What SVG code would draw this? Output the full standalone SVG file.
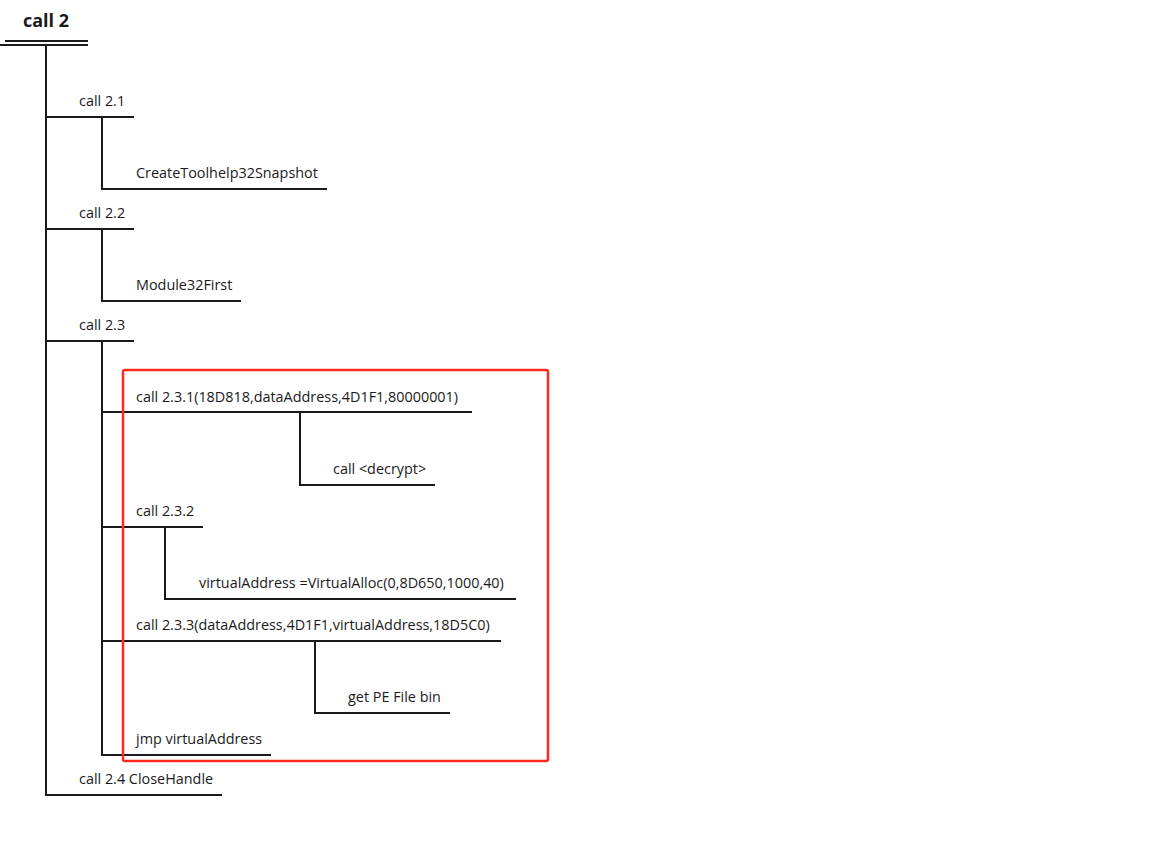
<svg xmlns="http://www.w3.org/2000/svg" width="1167" height="868" viewBox="0 0 1167 868">
<style>
text{font-family:"Open Sans","Noto Sans","Liberation Sans",sans-serif;font-size:14.4px;fill:#1a1a1a}
.t{font-size:18px;font-weight:bold}
.c line{stroke:#1a1a1a;stroke-width:2}
.hl{fill:none;stroke:#ff2a1f;stroke-width:2.5}
</style>
<rect width="1167" height="868" fill="#fff"/>
<g id="connectors" class="c">
<line x1="5" y1="41" x2="88" y2="41"/>
<line x1="0" y1="45" x2="88" y2="45"/>
<line x1="46" y1="45" x2="46" y2="796"/>
<line x1="46" y1="117" x2="134" y2="117"/>
<line x1="102" y1="117" x2="102" y2="190"/>
<line x1="101" y1="189" x2="327" y2="189"/>
<line x1="46" y1="229" x2="134" y2="229"/>
<line x1="102" y1="229" x2="102" y2="302"/>
<line x1="101" y1="301" x2="241" y2="301"/>
<line x1="46" y1="341" x2="134" y2="341"/>
<line x1="102" y1="341" x2="102" y2="756"/>
<line x1="102" y1="412" x2="472" y2="412"/>
<line x1="300" y1="412" x2="300" y2="486"/>
<line x1="299" y1="485" x2="435" y2="485"/>
<line x1="102" y1="527" x2="203" y2="527"/>
<line x1="165" y1="527" x2="165" y2="600"/>
<line x1="164" y1="599" x2="516" y2="599"/>
<line x1="102" y1="641" x2="501" y2="641"/>
<line x1="315" y1="641" x2="315" y2="714"/>
<line x1="314" y1="713" x2="450" y2="713"/>
<line x1="101" y1="755" x2="271" y2="755"/>
<line x1="45" y1="795" x2="222" y2="795"/>
</g>
<g id="n-call2"><text class="t" x="46" y="27" text-anchor="middle">call 2</text></g>
<g id="n-2-1"><text x="79" y="106">call 2.1</text></g>
<g id="n-create"><text x="136" y="178">CreateToolhelp32Snapshot</text></g>
<g id="n-2-2"><text x="79" y="218">call 2.2</text></g>
<g id="n-module"><text x="136" y="290">Module32First</text></g>
<g id="n-2-3"><text x="79" y="330">call 2.3</text></g>
<g id="n-2-3-1"><text x="136" y="402">call 2.3.1(18D818,dataAddress,4D1F1,80000001)</text></g>
<g id="n-decrypt"><text x="333" y="474">call &lt;decrypt&gt;</text></g>
<g id="n-2-3-2"><text x="136" y="516">call 2.3.2</text></g>
<g id="n-valloc"><text x="199" y="588">virtualAddress =VirtualAlloc(0,8D650,1000,40)</text></g>
<g id="n-2-3-3"><text x="136" y="630">call 2.3.3(dataAddress,4D1F1,virtualAddress,18D5C0)</text></g>
<g id="n-pe"><text x="348" y="702">get PE File bin</text></g>
<g id="n-jmp"><text x="136" y="744">jmp virtualAddress</text></g>
<g id="n-2-4"><text x="79" y="784">call 2.4 CloseHandle</text></g>
<g id="highlight"><rect class="hl" x="123" y="370" width="425" height="391" rx="2"/></g>
</svg>
